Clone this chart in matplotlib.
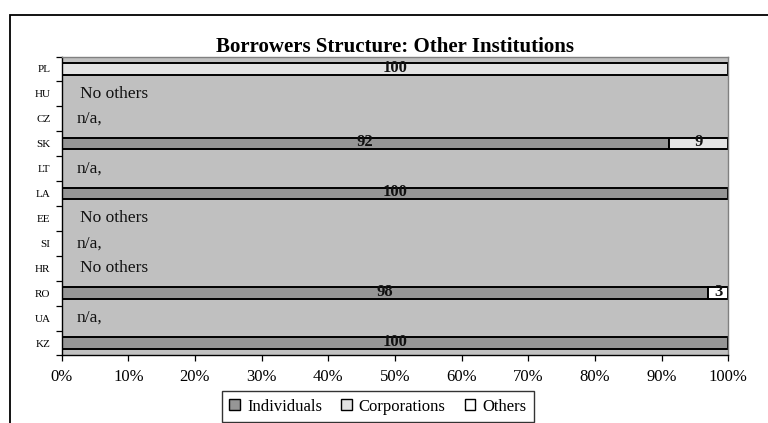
"""Borrowers structure of other institutions, 100% stacked horizontal bars."""

import matplotlib

matplotlib.use("Agg")
import matplotlib.pyplot as plt
import numpy as np
from matplotlib.patches import Rectangle

countries = ["PL", "HU", "CZ", "SK", "LT", "LA", "EE", "SI", "HR", "RO", "UA", "KZ"]
individuals = [0, 0, 0, 92, 0, 100, 0, 0, 0, 98, 0, 100]
corporations = [100, 0, 0, 9, 0, 0, 0, 0, 0, 0, 0, 0]
others = [0, 0, 0, 0, 0, 0, 0, 0, 0, 3, 0, 0]
notes = ["", "No others", "n/a,", "", "n/a,", "", "No others", "n/a,", "No others", "", "n/a,", ""]
x_ticks = [0, 10, 20, 30, 40, 50, 60, 70, 80, 90, 100]

series = [
    ("Individuals", individuals, "#969696"),
    ("Corporations", corporations, "#E3E3E3"),
    ("Others", others, "#FFFFFF"),
]

plt.rcParams["font.family"] = ["Liberation Serif", "DejaVu Serif"]

fig = plt.figure(figsize=(7.68, 4.23), dpi=100)
ax = fig.add_axes([0.0803, 0.1596, 0.8680, 0.7068])
ax.set_facecolor("#C0C0C0")

# outer chart frame, open to the right and bottom
fig.add_artist(Rectangle((9.5 / 768, -0.2), 1.2, 1.2 - 15.3 / 423,
                         transform=fig.transFigure, fill=False,
                         edgecolor="black", linewidth=1.3))

y = np.arange(len(countries))
totals = np.array(individuals) + np.array(corporations) + np.array(others)
safe = np.where(totals == 0, 1, totals)
left = np.zeros(len(countries))
handles = []
for name, values, color in series:
    vals = np.array(values, dtype=float)
    share = vals / safe * 100
    bars = ax.barh(y, share, left=left, height=0.46, color=color,
                   edgecolor="black", linewidth=1.4, label=name)
    handles.append(bars)
    for i, (v, s) in enumerate(zip(vals, share)):
        if v > 0:
            ax.text(left[i] + s / 2, y[i] - 0.05, f"{v:.0f}", ha="center", va="center",
                    fontsize=12, fontweight="bold", color="#111111")
    left += share

for i, note in enumerate(notes):
    if note:
        nx = 2.8 if note.startswith("No") else 2.3
        ax.text(nx, y[i], note, ha="left", va="center", fontsize=12.5, color="#111111")

ax.set_xlim(0, 100)
ax.set_ylim(len(countries) - 0.5, -0.5)
ax.set_xticks(x_ticks, labels=[f"{t}%" for t in x_ticks])
ax.tick_params(axis="x", direction="out", length=4, width=0.9, labelsize=12, pad=6)

# category ticks sit on the boundaries, labels between them
ax.set_yticks(np.arange(len(countries) + 1) - 0.5, labels=[])
ax.set_yticks(y, labels=countries, minor=True)
ax.tick_params(axis="y", which="major", direction="out", length=4, width=0.9)
ax.tick_params(axis="y", which="minor", length=0, labelsize=8, pad=8)

for side in ("left", "bottom"):
    ax.spines[side].set_color("black")
    ax.spines[side].set_linewidth(1.0)
for side in ("top", "right"):
    ax.spines[side].set_color("#808080")
    ax.spines[side].set_linewidth(1.0)

fig.text(0.514, 0.889, "Borrowers Structure: Other Institutions", ha="center", va="center",
         fontsize=15, fontweight="bold")

leg = fig.legend(handles=handles, labels=[s[0] for s in series], loc="center",
                 bbox_to_anchor=(0.492, 0.039), ncol=3, fontsize=12, frameon=True,
                 fancybox=False, edgecolor="black", handlelength=0.65, handleheight=0.65,
                 handletextpad=0.4, columnspacing=1.15, borderpad=0.45)
leg.get_frame().set_linewidth(1.0)
for h in leg.legend_handles:
    h.set_linewidth(1.0)

fig.savefig("out.png", dpi=100)
